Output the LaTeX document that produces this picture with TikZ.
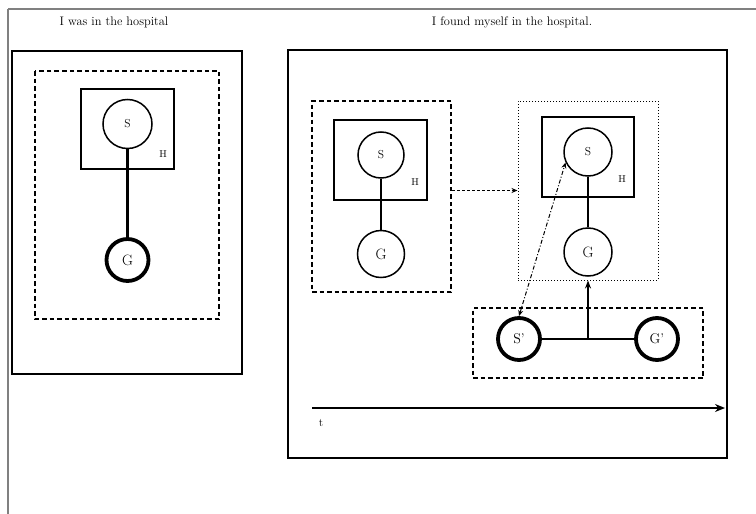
\documentclass[tikz,border=0pt]{standalone}
\usepackage{tikz}
\usetikzlibrary{arrows.meta,calc}

\begin{document}
\begin{tikzpicture}[x=1pt,y=-1pt,
        state/.style={circle, draw, line width=1.5pt, minimum size=46pt, inner sep=0pt},
        strong/.style={state, line width=3.8pt, minimum size=42pt},
        memo/.style={draw, line width=1.6pt, dash pattern=on 4.5pt off 3pt, inner sep=0pt},
        lbl/.style={font=\fontsize{10}{12}\selectfont}]
        \useasboundingbox (0,0) rectangle (756,514);
        % page rules
        \draw [gray, line width=1.4pt] (8,9) -- (756,9);
        \draw [gray, line width=2.6pt] (8,9) -- (8,514);
        \node (ttlA) at (114,22) {\fontsize{12.4}{14}\selectfont I was in the hospital};
        \node (ttlB) at (512,22) {\fontsize{12.4}{14}\selectfont I found myself in the hospital.};

        % left panel
        \draw [line width=1.8pt] (12,51) rectangle (242,374);
        \draw [line width=1.6pt, dash pattern=on 4.5pt off 3pt] (35,71) rectangle (219,319);
        \draw [line width=1.5pt] (81,89) rectangle (174,169);
        \node [state, minimum size=49pt] (sA) at (127.5,124) {\fontsize{11.5}{13}\selectfont S};
        \node [strong] (gA) at (127.5,260) {\fontsize{15}{17}\selectfont G};
        \node [lbl] (hA) at (163,154) {H};
        \draw [line width=2.4pt] (sA) -- (gA);

        % right panel
        \draw [line width=1.8pt] (288,50) rectangle (727,458);
        \node [memo, minimum width=139pt, minimum height=191pt] (past) at (381.5,196.5) {};
        \draw [line width=1.5pt] (334,120) rectangle (427,200);
        \node [state] (sB) at (381,155) {\fontsize{11.5}{13}\selectfont S};
        \node [state, minimum size=47pt] (gB) at (381,254) {\fontsize{15}{17}\selectfont G};
        \node [lbl] (hB) at (415,182) {H};
        \draw [line width=2.2pt] (sB) -- (gB);

        \node [draw, dotted, line width=1pt, inner sep=0pt, minimum width=140pt, minimum height=179pt] (now) at (588,190.5) {};
        \draw [line width=1.5pt] (542,117) rectangle (634,197);
        \node [state, minimum size=48pt] (sC) at (588,152) {\fontsize{11.5}{13}\selectfont S};
        \node [state, minimum size=48pt] (gC) at (588,252) {\fontsize{15}{17}\selectfont G};
        \node [lbl] (hC) at (622,179) {H};
        \draw [line width=1.1pt] (sC) -- (gC);

        \draw [-{Stealth[length=6pt,width=5pt]}, line width=1.1pt, dash pattern=on 3pt off 2pt] (past.east |- now.west) -- (now.west);

        \node [memo, minimum width=230pt, minimum height=70pt] (self) at (588,343) {};
        \node [strong] (sP) at (519,339) {\fontsize{14}{16}\selectfont S'};
        \node [strong] (gP) at (657,339) {\fontsize{14}{16}\selectfont G'};
        \draw [line width=2.2pt] (sP) -- (gP);
        \coordinate (mid) at ($(sP)!0.5!(gP)$);
        \draw [-{Stealth[length=8pt,width=6pt]}, line width=2.6pt] (mid) -- (mid |- now.south);
        \draw [{Stealth[length=6pt,width=5pt]}-{Stealth[length=6pt,width=5pt]}, line width=1pt,
               dash pattern=on 4pt off 2pt on 1pt off 2pt] (sP.north) -- (sC.205);

        % time line
        \coordinate (t0) at (312,408);
        \coordinate (t1) at (473,408);
        \coordinate (t2) at (725,408);
        \draw [line width=1.3pt] (t0) -- (t1);
        \draw [-{Stealth[length=10pt,width=8pt]}, line width=2.8pt] (t1) -- (t2);
        \node (tl) at (321,423) {\fontsize{11.5}{13}\selectfont t};
    \end{tikzpicture}
\end{document}
